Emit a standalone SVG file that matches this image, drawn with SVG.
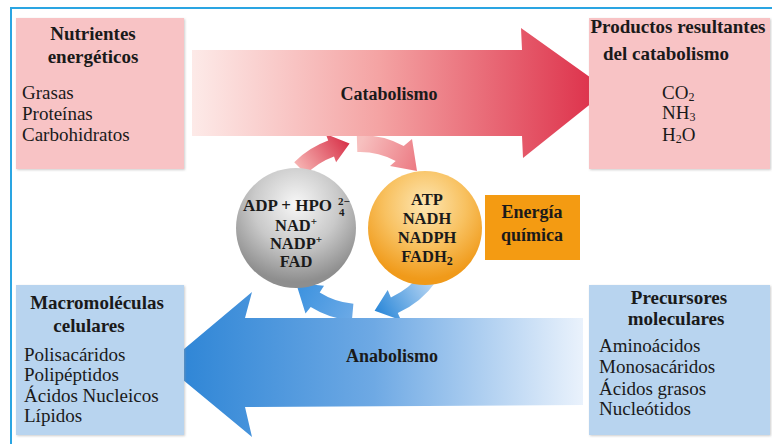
<svg xmlns="http://www.w3.org/2000/svg" width="772" height="445" viewBox="0 0 772 445" font-family="'Liberation Serif', 'Times New Roman', 'DejaVu Serif', serif">
<defs>
<linearGradient id="gCat" gradientUnits="userSpaceOnUse" x1="192" y1="0" x2="608" y2="0">
<stop offset="0" stop-color="#fdeae8"/><stop offset="0.45" stop-color="#f4a3a3"/><stop offset="1" stop-color="#dc2b46"/>
</linearGradient>
<linearGradient id="gAna" gradientUnits="userSpaceOnUse" x1="165" y1="0" x2="583" y2="0">
<stop offset="0" stop-color="#2a83d5"/><stop offset="0.5" stop-color="#6ea9e4"/><stop offset="1" stop-color="#eaf2fc"/>
</linearGradient>
<linearGradient id="gR1" gradientUnits="userSpaceOnUse" x1="300" y1="170" x2="345" y2="138">
<stop offset="0" stop-color="#f6b3b2"/><stop offset="1" stop-color="#d8334a"/>
</linearGradient>
<linearGradient id="gR2" gradientUnits="userSpaceOnUse" x1="360" y1="145" x2="416" y2="168">
<stop offset="0" stop-color="#f7c0bf"/><stop offset="1" stop-color="#ec7b84"/>
</linearGradient>
<linearGradient id="gB1" gradientUnits="userSpaceOnUse" x1="428" y1="280" x2="376" y2="312">
<stop offset="0" stop-color="#b3d3f2"/><stop offset="1" stop-color="#2a87d8"/>
</linearGradient>
<linearGradient id="gB2" gradientUnits="userSpaceOnUse" x1="352" y1="315" x2="298" y2="285">
<stop offset="0" stop-color="#6aa9e6"/><stop offset="1" stop-color="#3c92df"/>
</linearGradient>
<radialGradient id="gGray" cx="0.5" cy="0.3" r="0.65">
<stop offset="0" stop-color="#f7f7f7"/><stop offset="0.55" stop-color="#c9c9c9"/><stop offset="1" stop-color="#8e8e8e"/>
</radialGradient>
<radialGradient id="gOrange" cx="0.5" cy="0.3" r="0.65">
<stop offset="0" stop-color="#fde6b2"/><stop offset="0.55" stop-color="#f8c160"/><stop offset="1" stop-color="#f09a1a"/>
</radialGradient>
<filter id="sh" x="-5%" y="-5%" width="110%" height="110%">
<feDropShadow dx="1" dy="1" stdDeviation="0.8" flood-color="#999" flood-opacity="0.5"/>
</filter>
</defs>
<style>
text{fill:#1a1a1a}
.t{font-size:19px;font-weight:bold}
.i{font-size:19px}
.c{font-size:16.5px;font-weight:bold;text-anchor:middle}
.m{text-anchor:middle}
.pink{fill:#f8c3c5}
.blue{fill:#b8d4ef}
</style>
<rect width="772" height="445" fill="#ffffff"/>
<path d="M11 444 V8 H772" fill="none" stroke="#2aa5e2" stroke-width="2"/>

<g id="connectors">
<path d="M294.2 162.2 A93 93 0 0 1 328.2 140.6 L325.8 134 L349.6 143.6 L336.1 162.2 L334 156.6 A76 76 0 0 0 306.3 174.3 Z" fill="url(#gR1)"/>
<path d="M356.8 135.1 A93 93 0 0 1 403.7 145.9 L412 139 L417 171 L390 166 L395.7 160.9 A76 76 0 0 0 357.3 152 Z" fill="url(#gR2)"/>
<path d="M436.2 281.3 A93 93 0 0 1 397.8 313 L401 320.3 L374.6 310.7 L387.7 290.1 L390.9 297.4 A76 76 0 0 0 422.3 271.6 Z" fill="url(#gB1)"/>
<path d="M351.9 320.6 A93 93 0 0 1 310.7 306.9 L305.5 313.6 L296 283 L324 285.7 L319.7 292.4 A76 76 0 0 0 353.4 303.7 Z" fill="url(#gB2)"/>
<g id="catabolismo">
<polygon points="192,50 522,50 521,28 608,90 523,158 522,136 192,136" fill="url(#gCat)"/>
<text class="t m" x="389" y="100" style="font-size:18px">Catabolismo</text>
</g>
<g id="anabolismo">
<polygon points="583,318 245,318 252,292 165,365 252,437 245,407 583,405" fill="url(#gAna)"/>
<text class="t m" x="392" y="362" style="font-size:18px">Anabolismo</text>
</g>
</g>

<g id="nutrientes">
<rect class="pink" x="16" y="18" width="168" height="151" filter="url(#sh)"/>
<text class="t m" x="93" y="40">Nutrientes</text>
<text class="t m" x="93" y="63">energéticos</text>
<text class="i" x="22" y="99">Grasas</text>
<text class="i" x="22" y="120">Proteínas</text>
<text class="i" x="22" y="141">Carbohidratos</text>
</g>

<g id="productos">
<rect class="pink" x="589" y="18" width="181" height="151" filter="url(#sh)"/>
<text class="t m" x="678" y="33">Productos resultantes</text>
<text class="t m" x="666" y="60">del catabolismo</text>
<text class="i" x="662" y="99">CO<tspan font-size="12" dy="2">2</tspan></text>
<text class="i" x="662" y="119">NH<tspan font-size="12" dy="2">3</tspan></text>
<text class="i" x="662" y="141">H<tspan font-size="12" dy="2">2</tspan><tspan dy="-2">O</tspan></text>
</g>

<g id="oxidados">
<circle cx="296" cy="228" r="60" fill="url(#gGray)"/>
<text class="c" x="243" y="211" style="text-anchor:start;font-size:17px">ADP + HPO</text>
<text class="c" x="338" y="205" style="text-anchor:start;font-size:11px">2−</text>
<text class="c" x="339" y="216" style="text-anchor:start;font-size:11px">4</text>
<text class="c" x="296" y="231">NAD<tspan font-size="11" dy="-6">+</tspan></text>
<text class="c" x="296" y="249">NADP<tspan font-size="11" dy="-6">+</tspan></text>
<text class="c" x="296" y="267">FAD</text>
</g>

<g id="reducidos">
<circle cx="425" cy="228" r="57" fill="url(#gOrange)"/>
<text class="c" x="427" y="205">ATP</text>
<text class="c" x="427" y="224">NADH</text>
<text class="c" x="427" y="243">NADPH</text>
<text class="c" x="427" y="262">FADH<tspan font-size="12" dy="3">2</tspan></text>
</g>

<g id="energia">
<rect x="485" y="195" width="95" height="65" fill="#f49b12"/>
<text class="t m" x="532" y="218" style="font-size:18px">Energía</text>
<text class="t m" x="532" y="241" style="font-size:18px">química</text>
</g>

<g id="macromoleculas">
<rect class="blue" x="16" y="285" width="168" height="150" filter="url(#sh)"/>
<text class="t m" x="97" y="309">Macromoléculas</text>
<text class="t m" x="89" y="332">celulares</text>
<text class="i" x="24" y="361">Polisacáridos</text>
<text class="i" x="24" y="381">Polipéptidos</text>
<text class="i" x="24" y="402">Ácidos Nucleicos</text>
<text class="i" x="24" y="422">Lípidos</text>
</g>

<g id="precursores">
<rect class="blue" x="589" y="285" width="181" height="150" filter="url(#sh)"/>
<text class="t m" x="679" y="304">Precursores</text>
<text class="t m" x="676" y="325">moleculares</text>
<text class="i" x="599" y="352">Aminoácidos</text>
<text class="i" x="599" y="373">Monosacáridos</text>
<text class="i" x="599" y="395">Ácidos grasos</text>
<text class="i" x="599" y="415">Nucleótidos</text>
</g>
</svg>
